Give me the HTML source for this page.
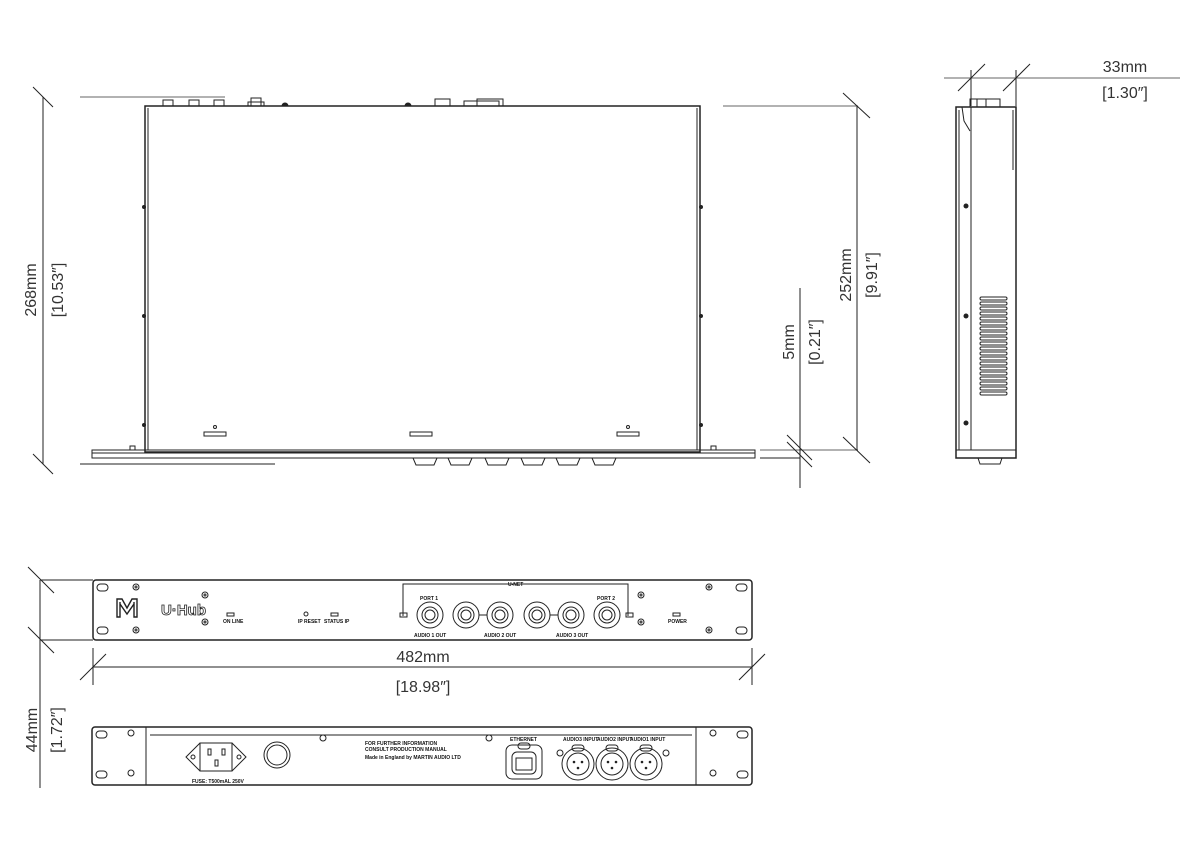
<!DOCTYPE html>
<html><head><style>
body{margin:0;background:#fff}
svg{display:block}
text{font-family:"Liberation Sans",sans-serif;fill:#111}
.d{font-family:"Liberation Sans Narrow","Liberation Sans",sans-serif;font-size:16px;font-weight:normal;fill:#333;stroke:none}
.s{font-size:5px;font-weight:bold;stroke:none}
</style></head><body>
<svg width="1200" height="845" viewBox="0 0 1200 845" xmlns="http://www.w3.org/2000/svg" fill="none" stroke="#222" stroke-width="1">
<!-- ===== TOP VIEW ===== -->
<line x1="80" y1="97" x2="225" y2="97" stroke="#666"/>
<line x1="80" y1="464" x2="275" y2="464"/>
<line x1="43" y1="97" x2="43" y2="464"/>
<line x1="33" y1="87" x2="53" y2="107"/>
<line x1="33" y1="454" x2="53" y2="474"/>
<text class="d" transform="translate(36,290) rotate(-90)" text-anchor="middle">268mm</text>
<text class="d" transform="translate(63,290) rotate(-90)" text-anchor="middle">[10.53″]</text>
<rect x="145" y="106" width="555" height="346" stroke-width="1.5"/>
<line x1="148" y1="108" x2="148" y2="450"/>
<line x1="697" y1="108" x2="697" y2="450"/>
<rect x="163" y="100" width="10" height="6"/><rect x="189" y="100" width="10" height="6"/><rect x="214" y="100" width="10" height="6"/>
<rect x="251" y="98" width="10" height="8"/><rect x="248" y="102" width="16" height="4"/>
<path d="M282 106a3 3 0 0 1 6 0z M405 106a3 3 0 0 1 6 0z" fill="#222"/>
<rect x="435" y="99" width="15" height="7"/>
<rect x="464" y="101" width="35" height="5"/><rect x="477" y="99" width="26" height="7"/>
<g fill="#222" stroke="none"><circle cx="144" cy="207" r="2"/><circle cx="144" cy="316" r="2"/><circle cx="144" cy="425" r="2"/><circle cx="701" cy="207" r="2"/><circle cx="701" cy="316" r="2"/><circle cx="701" cy="425" r="2"/></g>
<rect x="92" y="450" width="663" height="8"/>
<line x1="92" y1="453" x2="755" y2="453"/>
<path d="M130 450v-4h5v4 M711 450v-4h5v4"/>
<rect x="204" y="432" width="22" height="4"/><circle cx="215" cy="427" r="1.5"/>
<rect x="410" y="432" width="22" height="4"/>
<rect x="617" y="432" width="22" height="4"/><circle cx="628" cy="427" r="1.5"/>
<path d="M413 458l3 7h18l3-7 M448 458l3 7h18l3-7 M485 458l3 7h18l3-7 M521 458l3 7h18l3-7 M556 458l3 7h18l3-7 M592 458l3 7h18l3-7"/>
<line x1="723" y1="106" x2="858" y2="106" stroke="#666"/>
<line x1="760" y1="450" x2="858" y2="450" stroke="#666"/>
<line x1="857" y1="106" x2="857" y2="450"/>
<line x1="843" y1="93" x2="870" y2="118"/>
<line x1="843" y1="437" x2="870" y2="463"/>
<text class="d" transform="translate(851,275) rotate(-90)" text-anchor="middle">252mm</text>
<text class="d" transform="translate(877,275) rotate(-90)" text-anchor="middle">[9.91″]</text>
<line x1="760" y1="458" x2="800" y2="458"/>
<line x1="800" y1="288" x2="800" y2="488"/>
<line x1="787" y1="435" x2="812" y2="460"/><line x1="787" y1="442" x2="812" y2="467"/>
<text class="d" transform="translate(794,342) rotate(-90)" text-anchor="middle">5mm</text>
<text class="d" transform="translate(820,342) rotate(-90)" text-anchor="middle">[0.21″]</text>

<!-- ===== SIDE VIEW ===== -->
<line x1="944" y1="78" x2="1180" y2="78" stroke="#666"/>
<line x1="971" y1="70" x2="971" y2="106"/><line x1="1016" y1="70" x2="1016" y2="106"/>
<line x1="958" y1="91" x2="985" y2="64"/><line x1="1003" y1="91" x2="1030" y2="64"/>
<text class="d" x="1125" y="72" text-anchor="middle">33mm</text>
<text class="d" x="1125" y="98" text-anchor="middle">[1.30″]</text>
<rect x="956" y="107" width="60" height="351" stroke-width="1.5"/>
<line x1="971" y1="107" x2="971" y2="450"/><line x1="959" y1="110" x2="959" y2="450"/>
<line x1="1013" y1="110" x2="1013" y2="170"/>
<path d="M962 107l2 14 6 10"/>
<rect x="970" y="99" width="30" height="8"/><line x1="977" y1="99" x2="977" y2="107"/><line x1="986" y1="99" x2="986" y2="107"/>
<g fill="#222" stroke="none"><circle cx="966" cy="206" r="2.5"/><circle cx="966" cy="316" r="2.5"/><circle cx="966" cy="423" r="2.5"/></g>
<g>
<rect x="980" y="297" width="27" height="3" rx="1.5"/><rect x="980" y="302" width="27" height="3" rx="1.5"/><rect x="980" y="307" width="27" height="3" rx="1.5"/><rect x="980" y="312" width="27" height="3" rx="1.5"/><rect x="980" y="317" width="27" height="3" rx="1.5"/><rect x="980" y="322" width="27" height="3" rx="1.5"/><rect x="980" y="327" width="27" height="3" rx="1.5"/><rect x="980" y="332" width="27" height="3" rx="1.5"/><rect x="980" y="337" width="27" height="3" rx="1.5"/><rect x="980" y="342" width="27" height="3" rx="1.5"/><rect x="980" y="347" width="27" height="3" rx="1.5"/><rect x="980" y="352" width="27" height="3" rx="1.5"/><rect x="980" y="357" width="27" height="3" rx="1.5"/><rect x="980" y="362" width="27" height="3" rx="1.5"/><rect x="980" y="367" width="27" height="3" rx="1.5"/><rect x="980" y="372" width="27" height="3" rx="1.5"/><rect x="980" y="377" width="27" height="3" rx="1.5"/><rect x="980" y="382" width="27" height="3" rx="1.5"/><rect x="980" y="387" width="27" height="3" rx="1.5"/><rect x="980" y="392" width="27" height="3" rx="1.5"/>
</g>
<line x1="956" y1="450" x2="1016" y2="450"/>
<path d="M978 458l2 6h20l2-6"/>

<!-- ===== FRONT VIEW ===== -->
<line x1="40" y1="580" x2="93" y2="580"/><line x1="40" y1="640" x2="93" y2="640"/>
<line x1="40" y1="580" x2="40" y2="788"/>
<line x1="28" y1="567" x2="54" y2="593"/><line x1="28" y1="627" x2="54" y2="653"/>
<text class="d" transform="translate(37,730) rotate(-90)" text-anchor="middle">44mm</text>
<text class="d" transform="translate(62,730) rotate(-90)" text-anchor="middle">[1.72″]</text>
<rect x="93" y="580" width="659" height="60" rx="3" stroke-width="1.5"/>
<rect x="97" y="584" width="11" height="7" rx="3.5"/><rect x="97" y="627" width="11" height="7" rx="3.5"/>
<rect x="736" y="584" width="11" height="7" rx="3.5"/><rect x="736" y="627" width="11" height="7" rx="3.5"/>
<g><circle cx="136" cy="587" r="3"/><circle cx="136" cy="587" r="1"/><circle cx="136" cy="630" r="3"/><circle cx="136" cy="630" r="1"/>
<circle cx="205" cy="595" r="3"/><circle cx="205" cy="595" r="1"/><circle cx="205" cy="622" r="3"/><circle cx="205" cy="622" r="1"/>
<circle cx="641" cy="595" r="3"/><circle cx="641" cy="595" r="1"/><circle cx="641" cy="622" r="3"/><circle cx="641" cy="622" r="1"/>
<circle cx="709" cy="587" r="3"/><circle cx="709" cy="587" r="1"/><circle cx="709" cy="630" r="3"/><circle cx="709" cy="630" r="1"/></g>
<path d="M117 617v-18h5l5 9 5-9h5v18h-3v-13l-7 10-7-10v13z M120 617v-15 M134 617v-15" stroke-width="1.4"/>
<text x="161" y="615" style="font-size:15px;font-weight:bold;fill:#fff;stroke:#222;stroke-width:0.8">U·Hub</text>
<rect x="227" y="613" width="7" height="3"/><text class="s" x="223" y="623">ON LINE</text>
<circle cx="306" cy="614" r="2"/><text class="s" x="298" y="623">IP RESET</text>
<rect x="331" y="613" width="7" height="3"/><text class="s" x="324" y="623">STATUS IP</text>
<path d="M403 616v-32h225v32"/>
<text class="s" x="508" y="586">U-NET</text>
<rect x="400" y="613" width="7" height="4"/><rect x="626" y="613" width="7" height="4"/>
<g>
<circle cx="430" cy="615" r="13"/><circle cx="430" cy="615" r="8"/><circle cx="430" cy="615" r="5"/>
<circle cx="466" cy="615" r="13"/><circle cx="466" cy="615" r="8"/><circle cx="466" cy="615" r="5"/>
<circle cx="500" cy="615" r="13"/><circle cx="500" cy="615" r="8"/><circle cx="500" cy="615" r="5"/>
<circle cx="537" cy="615" r="13"/><circle cx="537" cy="615" r="8"/><circle cx="537" cy="615" r="5"/>
<circle cx="571" cy="615" r="13"/><circle cx="571" cy="615" r="8"/><circle cx="571" cy="615" r="5"/>
<circle cx="607" cy="615" r="13"/><circle cx="607" cy="615" r="8"/><circle cx="607" cy="615" r="5"/>
<line x1="479" y1="615" x2="487" y2="615"/><line x1="550" y1="615" x2="558" y2="615"/>
</g>
<text class="s" x="420" y="600">PORT 1</text><text class="s" x="597" y="600">PORT 2</text>
<text class="s" x="414" y="637">AUDIO 1 OUT</text><text class="s" x="484" y="637">AUDIO 2 OUT</text><text class="s" x="556" y="637">AUDIO 3 OUT</text>
<rect x="673" y="613" width="7" height="3"/><text class="s" x="668" y="623">POWER</text>
<line x1="93" y1="648" x2="93" y2="685"/><line x1="752" y1="648" x2="752" y2="685"/>
<line x1="93" y1="667" x2="752" y2="667"/>
<line x1="80" y1="680" x2="106" y2="654"/><line x1="739" y1="680" x2="765" y2="654"/>
<text class="d" x="423" y="662" text-anchor="middle">482mm</text>
<text class="d" x="423" y="692" text-anchor="middle">[18.98″]</text>

<!-- ===== REAR VIEW ===== -->
<rect x="92" y="727" width="660" height="58" rx="3" stroke-width="1.5"/>
<rect x="146" y="727" width="550" height="58"/>
<line x1="150" y1="735" x2="692" y2="735"/>
<rect x="96" y="731" width="11" height="7" rx="3.5"/><rect x="96" y="771" width="11" height="7" rx="3.5"/>
<rect x="737" y="731" width="11" height="7" rx="3.5"/><rect x="737" y="771" width="11" height="7" rx="3.5"/>
<g><circle cx="131" cy="733" r="3"/><circle cx="131" cy="773" r="3"/><circle cx="713" cy="733" r="3"/><circle cx="713" cy="773" r="3"/>
<circle cx="323" cy="738" r="3"/><circle cx="489" cy="738" r="3"/></g>
<path d="M186 757l14-14h32l14 14-14 14h-32z"/>
<rect x="200" y="743" width="32" height="28"/>
<rect x="208" y="749" width="3" height="6"/><rect x="222" y="749" width="3" height="6"/><rect x="215" y="760" width="3" height="6"/>
<circle cx="193" cy="757" r="2"/><circle cx="239" cy="757" r="2"/>
<text class="s" x="192" y="783">FUSE: T500mAL 250V</text>
<circle cx="277" cy="755" r="13"/><circle cx="277" cy="755" r="10"/>
<text class="s" x="365" y="745">FOR FURTHER INFORMATION</text>
<text class="s" x="365" y="751">CONSULT PRODUCTION MANUAL</text>
<text class="s" x="365" y="759">Made in England by MARTIN AUDIO LTD</text>
<text class="s" x="510" y="741">ETHERNET</text>
<rect x="506" y="745" width="36" height="34" rx="6"/>
<rect x="512" y="752" width="24" height="22" rx="5"/>
<rect x="516" y="758" width="16" height="12"/>
<rect x="518" y="743" width="12" height="6" rx="3"/>
<text class="s" x="563" y="741">AUDIO3 INPUT</text><text class="s" x="597" y="741">AUDIO2 INPUT</text><text class="s" x="630" y="741">AUDIO1 INPUT</text>
<g>
<circle cx="578" cy="764" r="16"/><circle cx="578" cy="764" r="11"/><rect x="572" y="745" width="12" height="6" rx="3"/>
<circle cx="612" cy="764" r="16"/><circle cx="612" cy="764" r="11"/><rect x="606" y="745" width="12" height="6" rx="3"/>
<circle cx="646" cy="764" r="16"/><circle cx="646" cy="764" r="11"/><rect x="640" y="745" width="12" height="6" rx="3"/>
<circle cx="560" cy="753" r="3"/><circle cx="666" cy="753" r="3"/>
</g>
<g fill="#222" stroke="none">
<circle cx="574" cy="762" r="1.3"/><circle cx="582" cy="762" r="1.3"/><circle cx="578" cy="768" r="1.3"/>
<circle cx="608" cy="762" r="1.3"/><circle cx="616" cy="762" r="1.3"/><circle cx="612" cy="768" r="1.3"/>
<circle cx="642" cy="762" r="1.3"/><circle cx="650" cy="762" r="1.3"/><circle cx="646" cy="768" r="1.3"/>
</g>
</svg>
</body></html>
